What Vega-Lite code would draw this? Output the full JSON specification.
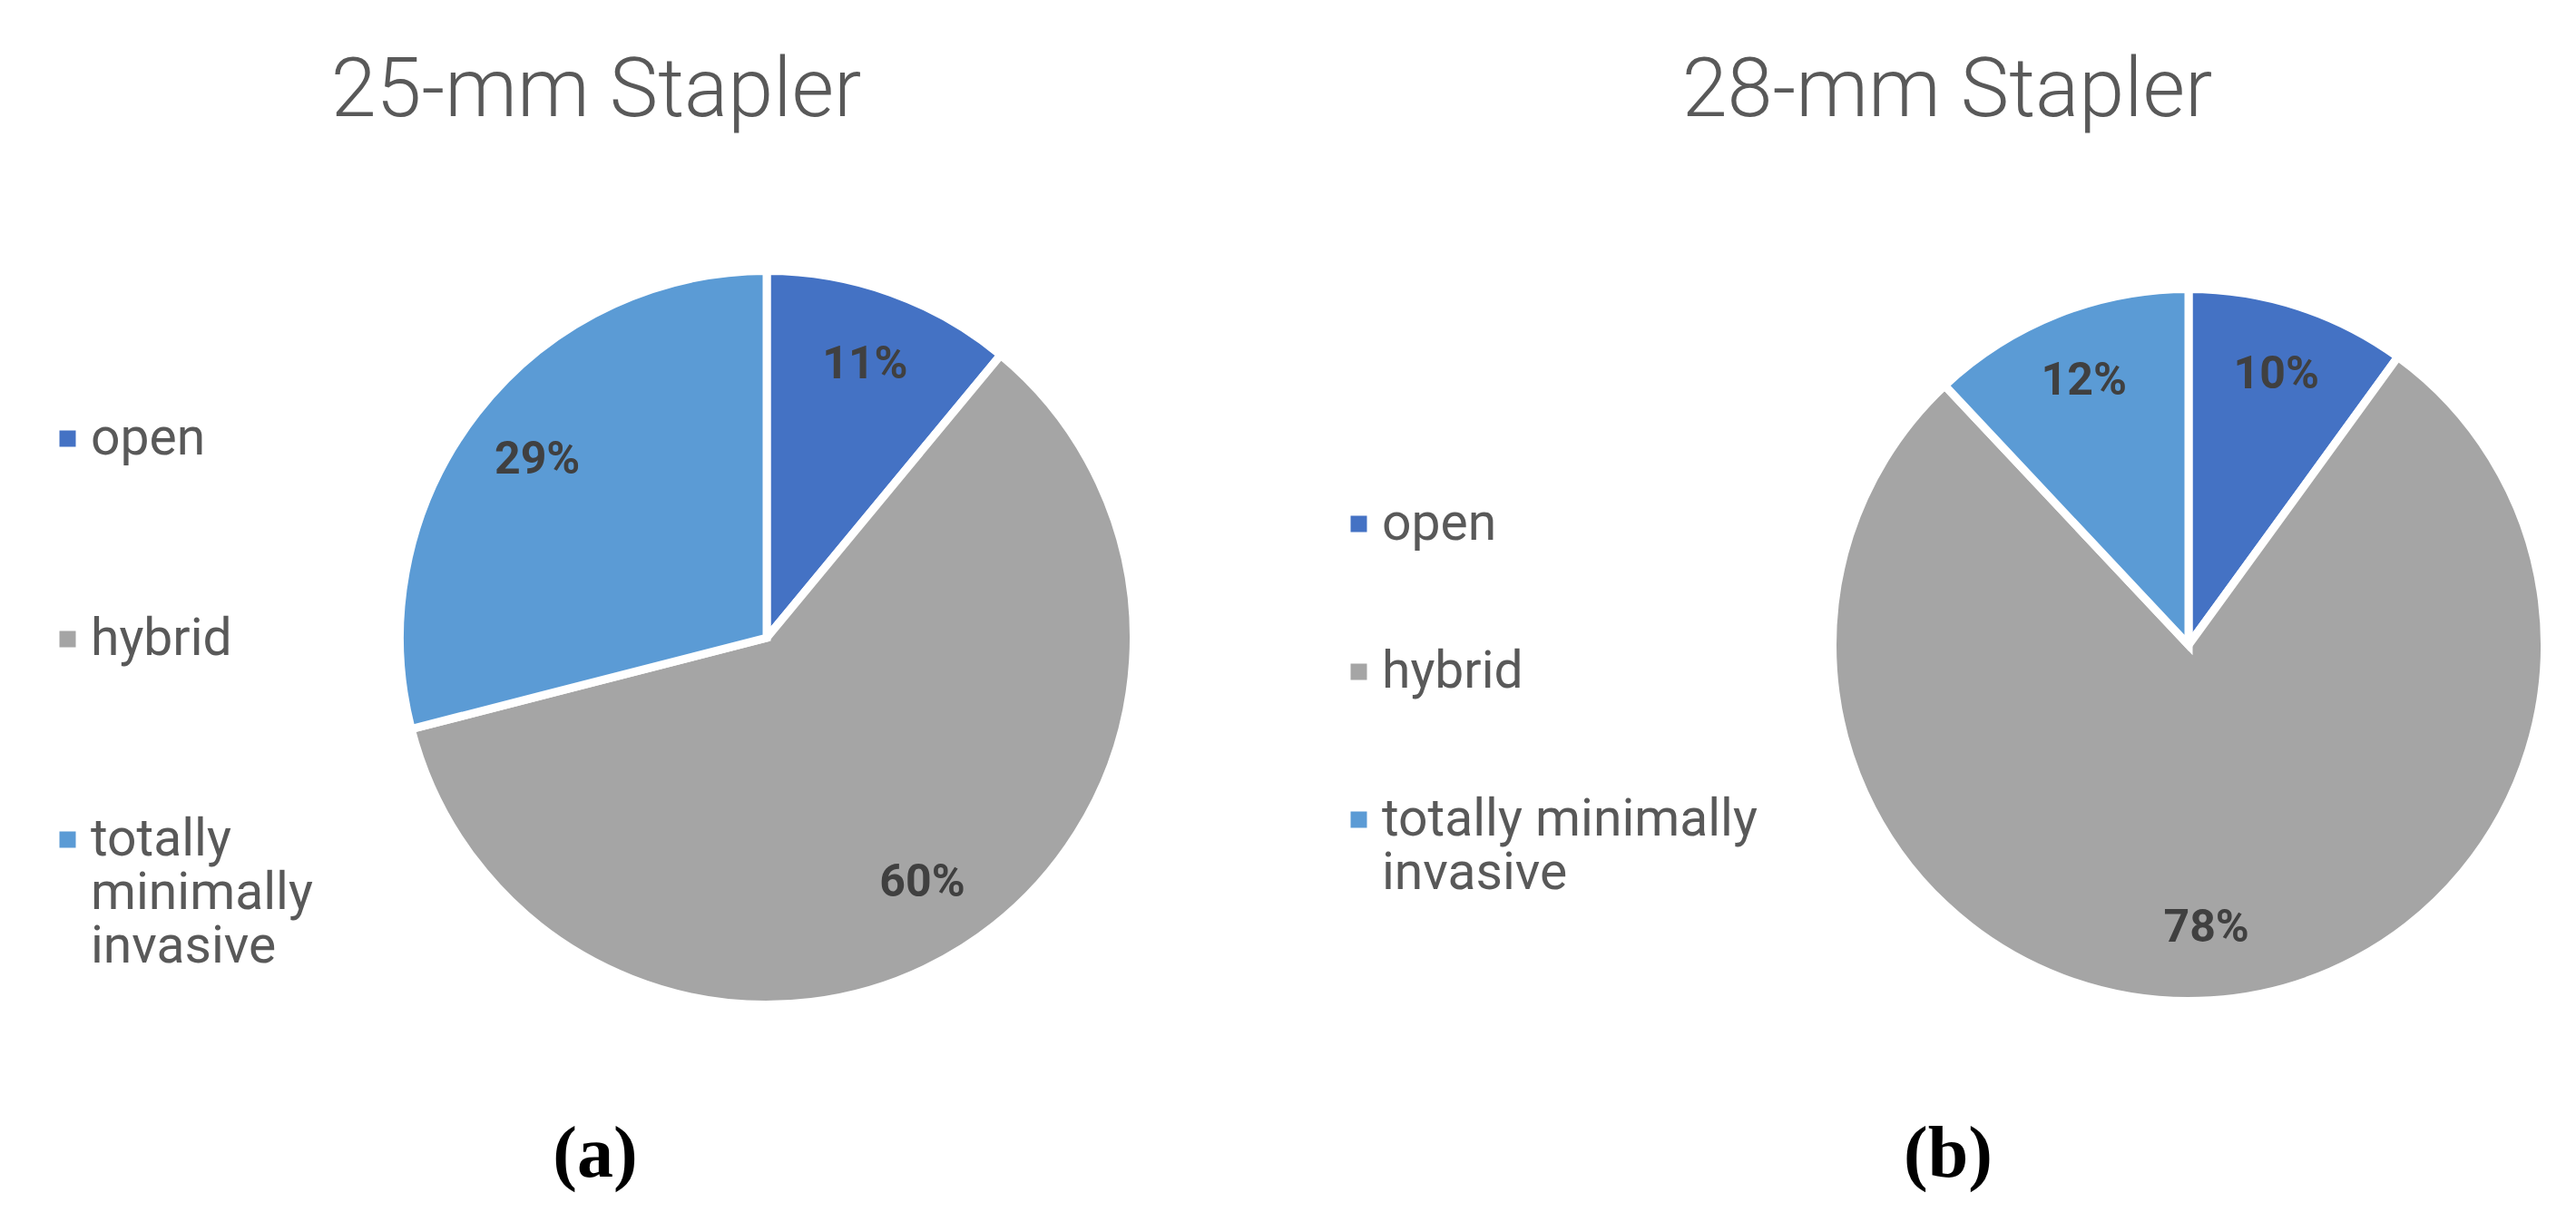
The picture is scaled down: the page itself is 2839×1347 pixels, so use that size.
{
  "$schema": "https://vega.github.io/schema/vega-lite/v6.json",
  "width": 2839,
  "height": 1347,
  "autosize": "none",
  "padding": 0,
  "background": "white",
  "config": {"view": {"stroke": null}},
  "datasets": {
    "slices": [
      {"panel": "a", "category": "open", "value": 0.11, "order": 1},
      {"panel": "a", "category": "hybrid", "value": 0.60, "order": 2},
      {"panel": "a", "category": "totally minimally invasive", "value": 0.29, "order": 3},
      {"panel": "b", "category": "open", "value": 0.10, "order": 1},
      {"panel": "b", "category": "hybrid", "value": 0.78, "order": 2},
      {"panel": "b", "category": "totally minimally invasive", "value": 0.12, "order": 3}
    ],
    "texts": [
      {"panel": "a", "kind": "title", "text": "25-mm Stapler"},
      {"panel": "b", "kind": "title", "text": "28-mm Stapler"},
      {"panel": "a", "kind": "caption", "text": "(a)"},
      {"panel": "b", "kind": "caption", "text": "(b)"}
    ]
  },
  "resolve": {"scale": {"x": "independent", "y": "independent", "color": "independent"}, "legend": {"color": "independent"}},
  "layer": [
    {
      "data": {"name": "slices"},
      "transform": [{"filter": "datum.panel == 'a'"}],
      "mark": {"type": "arc", "outerRadius": 404.5, "stroke": "white", "strokeWidth": 9},
      "encoding": {
        "x": {"field": "panel", "type": "nominal", "scale": {"type": "point", "domain": ["a", "b"], "range": [845, 2412], "padding": 0}, "axis": null},
        "y": {"field": "panel", "type": "nominal", "scale": {"type": "point", "domain": ["a", "b"], "range": [703, 711], "padding": 0}, "axis": null},
        "theta": {"field": "value", "type": "quantitative", "stack": true},
        "order": {"field": "order", "type": "quantitative"},
        "color": {
          "field": "category", "type": "nominal",
          "scale": {"domain": ["open", "hybrid", "totally minimally invasive"], "range": ["#4472C4", "#A5A5A5", "#5B9BD5"]},
          "legend": {
            "title": null, "orient": "none", "legendX": 46, "legendY": 455, "direction": "vertical",
            "symbolType": "square", "symbolSize": 324, "symbolStrokeWidth": 0,
            "labelFont": "Roboto", "labelFontSize": 57, "labelColor": "#595959", "labelLimit": 1000,
            "labelOffset": -3, "rowPadding": 163, "padding": 0, "labelBaseline": "middle",
            "labelExpr": "datum.label == 'totally minimally invasive' ? ['totally', 'minimally', 'invasive'] : datum.label"
          }
        }
      }
    },
    {
      "data": {"name": "slices"},
      "transform": [{"filter": "datum.panel == 'a'"}],
      "mark": {"type": "text", "radius": 320, "font": "Roboto", "fontWeight": "bold", "fontSize": 50, "color": "#404040", "align": "center", "baseline": "middle"},
      "encoding": {
        "x": {"field": "panel", "type": "nominal", "scale": {"type": "point", "domain": ["a", "b"], "range": [845, 2412], "padding": 0}, "axis": null},
        "y": {"field": "panel", "type": "nominal", "scale": {"type": "point", "domain": ["a", "b"], "range": [703, 711], "padding": 0}, "axis": null},
        "theta": {"field": "value", "type": "quantitative", "stack": true},
        "order": {"field": "order", "type": "quantitative"},
        "text": {"field": "value", "type": "quantitative", "format": ".0%"}
      }
    },
    {
      "data": {"name": "slices"},
      "transform": [{"filter": "datum.panel == 'b'"}],
      "mark": {"type": "arc", "outerRadius": 392.5, "stroke": "white", "strokeWidth": 9},
      "encoding": {
        "x": {"field": "panel", "type": "nominal", "scale": {"type": "point", "domain": ["a", "b"], "range": [845, 2412], "padding": 0}, "axis": null},
        "y": {"field": "panel", "type": "nominal", "scale": {"type": "point", "domain": ["a", "b"], "range": [703, 711], "padding": 0}, "axis": null},
        "theta": {"field": "value", "type": "quantitative", "stack": true},
        "order": {"field": "order", "type": "quantitative"},
        "color": {
          "field": "category", "type": "nominal",
          "scale": {"domain": ["open", "hybrid", "totally minimally invasive"], "range": ["#4472C4", "#A5A5A5", "#5B9BD5"]},
          "legend": {
            "title": null, "orient": "none", "legendX": 1469, "legendY": 549, "direction": "vertical",
            "symbolType": "square", "symbolSize": 324, "symbolStrokeWidth": 0,
            "labelFont": "Roboto", "labelFontSize": 57, "labelColor": "#595959", "labelLimit": 1000,
            "labelOffset": -3, "rowPadding": 105, "padding": 0, "labelBaseline": "middle",
            "labelExpr": "datum.label == 'totally minimally invasive' ? ['totally minimally', 'invasive'] : datum.label"
          }
        }
      }
    },
    {
      "data": {"name": "slices"},
      "transform": [{"filter": "datum.panel == 'b'"}],
      "mark": {"type": "text", "radius": 313, "font": "Roboto", "fontWeight": "bold", "fontSize": 50, "color": "#404040", "align": "center", "baseline": "middle"},
      "encoding": {
        "x": {"field": "panel", "type": "nominal", "scale": {"type": "point", "domain": ["a", "b"], "range": [845, 2412], "padding": 0}, "axis": null},
        "y": {"field": "panel", "type": "nominal", "scale": {"type": "point", "domain": ["a", "b"], "range": [703, 711], "padding": 0}, "axis": null},
        "theta": {"field": "value", "type": "quantitative", "stack": true},
        "order": {"field": "order", "type": "quantitative"},
        "text": {"field": "value", "type": "quantitative", "format": ".0%"}
      }
    },
    {
      "data": {"name": "texts"},
      "transform": [{"filter": "datum.kind == 'title'"}],
      "mark": {"type": "text", "font": "Roboto", "fontWeight": 300, "fontSize": 90, "color": "#595959", "align": "center", "baseline": "alphabetic"},
      "encoding": {
        "x": {"field": "panel", "type": "nominal", "scale": {"type": "point", "domain": ["a", "b"], "range": [657, 2146], "padding": 0}, "axis": null},
        "y": {"field": "kind", "type": "nominal", "scale": {"type": "point", "domain": ["title", "caption"], "range": [128, 1297], "padding": 0}, "axis": null},
        "text": {"field": "text", "type": "nominal"}
      }
    },
    {
      "data": {"name": "texts"},
      "transform": [{"filter": "datum.kind == 'caption'"}],
      "mark": {"type": "text", "font": "Liberation Serif", "fontWeight": "bold", "fontSize": 80, "color": "#000000", "align": "center", "baseline": "alphabetic"},
      "encoding": {
        "x": {"field": "panel", "type": "nominal", "scale": {"type": "point", "domain": ["a", "b"], "range": [656, 2147], "padding": 0}, "axis": null},
        "y": {"field": "kind", "type": "nominal", "scale": {"type": "point", "domain": ["title", "caption"], "range": [128, 1297], "padding": 0}, "axis": null},
        "text": {"field": "text", "type": "nominal"}
      }
    }
  ]
}
